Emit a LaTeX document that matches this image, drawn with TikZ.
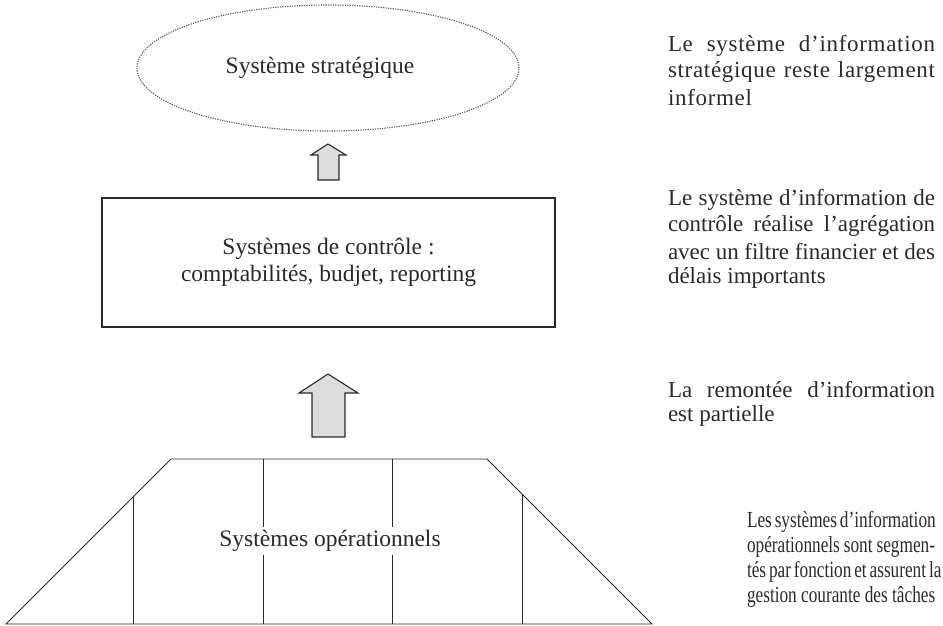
\documentclass[tikz,border=0pt]{standalone}
\usepackage{fontspec}
\setmainfont{Liberation Serif}
\newfontfamily\spacedfont[LetterSpace=3]{Liberation Serif}
\usetikzlibrary{shapes.geometric}
\definecolor{ink}{HTML}{2A2A2A}
\definecolor{arrowfill}{HTML}{DCDCDC}
\newcommand{\condline}[1]{\scalebox{0.75}[1]{#1}}
\begin{document}
\begin{tikzpicture}[x=1pt,y=-1pt,
  every node/.style={inner sep=0pt, outer sep=0pt, font=\fontsize{23.5}{27}\selectfont, text=ink},
  box/.style={draw=ink, line width=1.2pt},
  blockarrow/.style={draw=ink, line width=1.1pt, fill=arrowfill, line join=miter},
  trap/.style={draw=ink, line width=0.8pt},
  note/.style={anchor=west, font=\fontsize{23}{26}\selectfont}
]
\useasboundingbox (0,0) rectangle (943,625);

% strategic ellipse
\node[ellipse, draw=ink!80, dash pattern=on 1.2pt off 1.2pt, line width=1.1pt,
      minimum width=382pt, minimum height=126pt] (strat) at (328,68) {};
\node (strattxt) at (320,68) {Système stratégique};

% small arrow
\draw[blockarrow] (318,180) -- (318,155) -- (311,155) -- (328,144) -- (346,155) -- (339,155) -- (339,180) -- cycle;

% control box
\node[box, minimum width=453pt, minimum height=129pt, align=center] (ctrl) at (328.5,262.5)
  {Systèmes de contrôle :\\comptabilités, budjet, reporting};

% big arrow
\draw[blockarrow] (312,437) -- (312,393) -- (299,393) -- (328,374) -- (358,393) -- (345,393) -- (345,437) -- cycle;

% trapezoid
\coordinate (bl) at (6,624);
\coordinate (tl) at (171,459);
\coordinate (tr) at (487,459);
\coordinate (br) at (652,624);
\draw[trap] (bl) -- (tl) -- (tr) -- (br) -- cycle;
\draw[trap] (133,497) -- (133,624);
\draw[trap] (263,459) -- (263,624);
\draw[trap] (392,459) -- (392,624);
\draw[trap] (522,494) -- (522,624);
\node[fill=white, inner xsep=2pt, inner ysep=3pt] (optxt) at (330,541) {Systèmes opérationnels};

% notes
\node[note] (n11) at (668,46) {\spacedfont\makebox[267pt][s]{Le système d’information}};
\node[note] (n12) at (668,72) {\spacedfont\makebox[267pt][s]{stratégique reste largement}};
\node[note] (n13) at (668,98) {\spacedfont informel};

\node[note] (n21) at (668,200) {\makebox[267pt][s]{Le système d’information de}};
\node[note] (n22) at (668,226) {\makebox[267pt][s]{contrôle réalise l’agrégation}};
\node[note] (n23) at (668,252) {\makebox[267pt][s]{avec un filtre financier et des}};
\node[note] (n24) at (668,278) {délais importants};

\node[note] (n31) at (668,390) {\makebox[267pt][s]{La remontée d’information}};
\node[note] (n32) at (668,416) {est partielle};

\node[note] (n41) at (747,522) {\condline{\makebox[250.7pt][s]{Les systèmes d’information}}};
\node[note] (n42) at (747,547) {\condline{\makebox[250.7pt][s]{opérationnels sont segmen-}}};
\node[note] (n43) at (747,572) {\condline{\makebox[250.7pt][s]{tés par fonction et assurent la}}};
\node[note] (n44) at (747,597) {\condline{gestion courante des tâches}};
\end{tikzpicture}
\end{document}
